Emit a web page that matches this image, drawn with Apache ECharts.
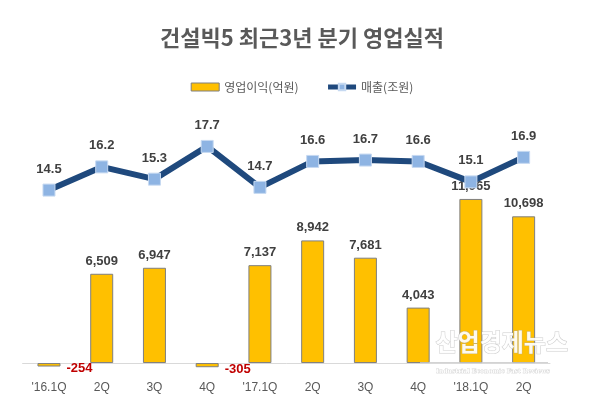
<!DOCTYPE html>
<html>
<head>
<meta charset="utf-8">
<script src="https://cdn.jsdelivr.net/npm/echarts@6/dist/echarts.min.js"></script>
<style>
html,body{margin:0;padding:0;background:#fff;}
#chart{width:604px;height:394px;}
</style>
</head>
<body>
<div id="chart"></div>
<script>
const categories = ["'16.1Q", "2Q", "3Q", "4Q", "'17.1Q", "2Q", "3Q", "4Q", "'18.1Q", "2Q"];
const profitValues = [-254, 6509, 6947, -305, 7137, 8942, 7681, 4043, 11965, 10698];
const salesValues = [14.5, 16.2, 15.3, 17.7, 14.7, 16.6, 16.7, 16.6, 15.1, 16.9];

const FONT = "'Liberation Sans', 'Noto Sans CJK KR', sans-serif";
const chart = echarts.init(document.getElementById('chart'), null, {renderer: 'canvas'});

const barData = profitValues.map(v => {
  if (v < 0) {
    return {
      value: v,
      label: {
        position: 'right',
        distance: 6,
        offset: [0, 4],
        color: '#C00000'
      }
    };
  }
  return { value: v };
});

const option = {
  backgroundColor: '#ffffff',
  animation: false,
  title: {
    text: '건설빅5 최근3년 분기 영업실적',
    left: 'center',
    top: 22,
    textStyle: {
      fontFamily: "'Noto Sans CJK KR', sans-serif",
      fontWeight: 'bold',
      fontSize: 22,
      color: '#595959'
    }
  },
  legend: {
    top: 76,
    left: 'center',
    itemGap: 27,
    itemWidth: 28,
    itemHeight: 8,
    textStyle: {
      fontFamily: "'Noto Sans CJK KR', sans-serif",
      fontSize: 12,
      color: '#595959'
    },
    data: [
      { name: '영업이익(억원)', icon: 'rect', itemStyle: { borderWidth: 1 } },
      { name: '매출(조원)', lineStyle: { width: 5 } }
    ]
  },
  grid: {
    left: 22.6,
    right: 54,
    top: 100,
    bottom: 20,
    containLabel: false
  },
  xAxis: {
    type: 'category',
    data: categories,
    boundaryGap: true,
    axisLine: {
      show: true,
      onZero: true,
      onZeroAxisIndex: 0,
      lineStyle: { color: '#D9D9D9', width: 1 }
    },
    axisTick: { show: false },
    axisLabel: {
      margin: 9,
      fontFamily: FONT,
      fontSize: 12,
      color: '#595959',
      interval: 0
    },
    splitLine: { show: false }
  },
  yAxis: [
    {
      type: 'value',
      min: -726,
      max: 19180,
      show: false,
      splitLine: { show: false }
    },
    {
      type: 'value',
      min: 1.1,
      max: 21.1,
      show: false,
      splitLine: { show: false }
    }
  ],
  series: [
    {
      name: '영업이익(억원)',
      type: 'bar',
      yAxisIndex: 0,
      barWidth: 23,
      data: barData,
      itemStyle: {
        color: '#FFC000',
        borderColor: '#7F7F7F',
        borderWidth: 1
      },
      label: {
        show: true,
        position: 'top',
        distance: 6,
        fontFamily: FONT,
        fontWeight: 'bold',
        fontSize: 13,
        color: '#404040',
        formatter: p => p.value.toLocaleString('en-US')
      },
      z: 2
    },
    {
      name: '매출(조원)',
      type: 'line',
      yAxisIndex: 1,
      data: salesValues,
      symbol: 'rect',
      symbolSize: 12,
      lineStyle: { color: '#1F497D', width: 6 },
      itemStyle: {
        color: '#8EB4E3',
        borderColor: '#C6D9F1',
        borderWidth: 1
      },
      label: {
        show: true,
        position: 'top',
        distance: 8,
        fontFamily: FONT,
        fontWeight: 'bold',
        fontSize: 13,
        color: '#404040',
        formatter: p => p.value.toFixed(1)
      },
      z: 3
    }
  ],
  graphic: [
    {
      type: 'rect',
      z: 10,
      shape: { x: 420, y: 362, width: 128, height: 1 },
      style: { fill: 'rgba(200,200,200,0.8)' }
    },
    {
      type: 'text',
      left: 435,
      top: 329,
      z: 10,
      style: {
        text: '산업경제뉴스',
        font: "bold 24px 'Noto Sans CJK KR', sans-serif",
        fill: 'rgba(255,255,255,0.92)',
        stroke: 'rgba(170,170,170,0.6)',
        lineWidth: 1,
        shadowColor: 'rgba(120,120,120,0.5)',
        shadowBlur: 2,
        shadowOffsetX: 1,
        shadowOffsetY: 1
      }
    },
    {
      type: 'text',
      left: 436,
      top: 368,
      z: 10,
      style: {
        text: 'Industrial Economic Fast Reviews',
        font: "bold 6px 'DejaVu Serif', serif",
        fill: 'rgba(255,255,255,0.95)',
        stroke: 'rgba(160,160,160,0.6)',
        lineWidth: 0.5
      }
    }
  ]
};

chart.setOption(option);
</script>
</body>
</html>
